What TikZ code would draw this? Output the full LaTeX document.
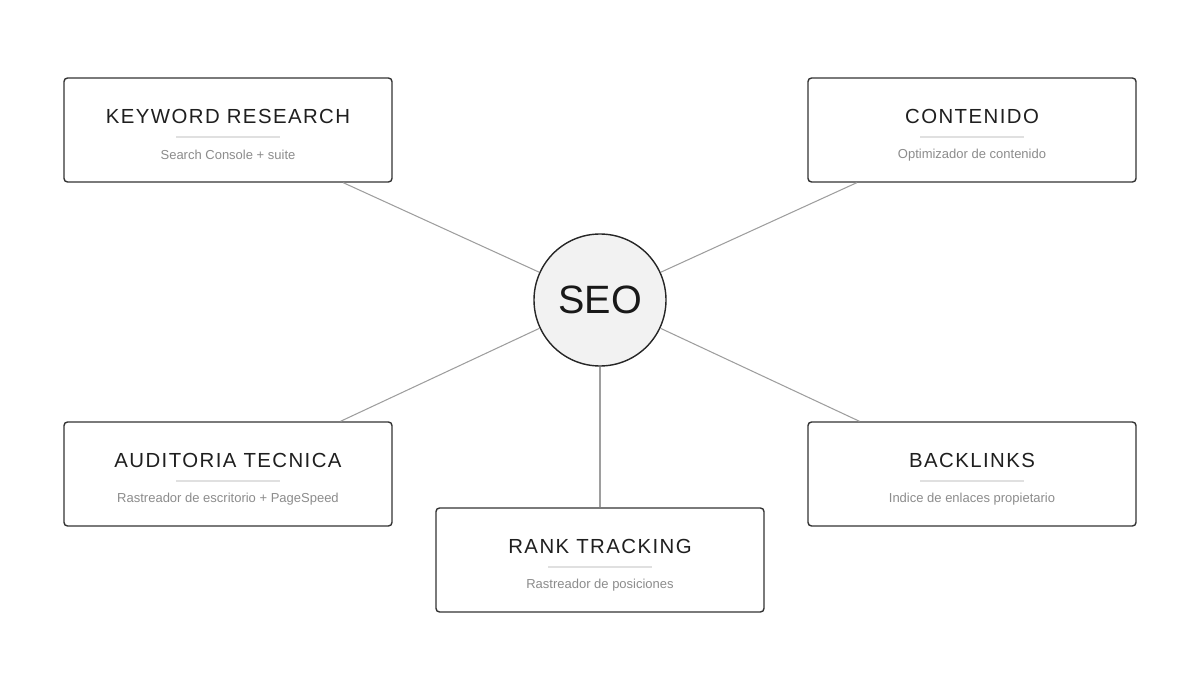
\documentclass[tikz,border=0pt]{standalone}
\usepackage{fontspec}
\setmainfont{Liberation Sans}
\newfontfamily\titlefont[LetterSpace=7]{Liberation Sans}
\begin{document}
\begin{tikzpicture}[x=0.02cm,y=-0.02cm,
  box/.style={draw=black!80,line width=0.8pt,rounded corners=2pt,fill=white,minimum width=328*0.02cm,minimum height=104*0.02cm},
  ttl/.style={font=\titlefont\fontsize{11.6}{13}\selectfont,text=black!88},
  sub/.style={font=\fontsize{7.4}{9}\selectfont,text=black!45},
  sep/.style={draw=black!12,line width=0.6pt},
  conn/.style={draw=black!38,line width=0.6pt}]
\useasboundingbox (0,0) rectangle (1200,675);
\node[circle,draw=black!85,line width=0.8pt,fill=black!5,minimum size=132*0.02cm,font=\fontsize{22.5}{26}\selectfont,text=black!90] (seo) at (600,300) {SEO};
\node[box] (kr) at (228,130) {};
\node[box] (co) at (972,130) {};
\node[box] (au) at (228,474) {};
\node[box] (bl) at (972,474) {};
\node[box] (rt) at (600,560) {};
\foreach \n in {kr,co,au,bl,rt}{\path[conn] (seo) -- (\n);}
\foreach \n/\t/\s in {kr/KEYWORD RESEARCH/Search Console + suite,co/CONTENIDO/Optimizador de contenido,au/AUDITORIA TECNICA/Rastreador de escritorio + PageSpeed,bl/BACKLINKS/Indice de enlaces propietario,rt/RANK TRACKING/Rastreador de posiciones}{
  \node[ttl] (\n t) at ([yshift=14*0.02cm]\n.center) {\t};
  \node[sub] (\n s) at ([yshift=-25*0.02cm]\n.center) {\s};
  \draw[sep] ([xshift=-52*0.02cm,yshift=-7*0.02cm]\n.center) coordinate (\n a) -- ([xshift=52*0.02cm,yshift=-7*0.02cm]\n.center) coordinate (\n b);
}
\end{tikzpicture}
\end{document}
